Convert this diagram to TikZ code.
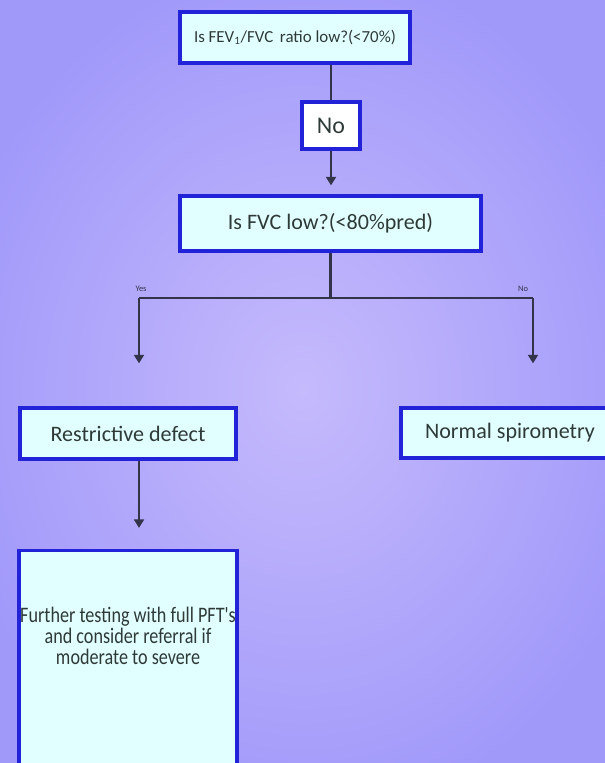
\documentclass[tikz,border=0pt]{standalone}
\usepackage{fontspec}
\setmainfont{Carlito}
\newfontfamily\condfont{Carlito}[FakeStretch=0.82]
\usetikzlibrary{arrows.meta}

\definecolor{bgin}{HTML}{C5BAFC}
\definecolor{bgout}{HTML}{A199FA}
\definecolor{boxblue}{HTML}{2222D8}
\definecolor{boxfill}{HTML}{E2FFFF}
\definecolor{txtgray}{HTML}{2E3A38}
\definecolor{linegray}{HTML}{33334A}

\begin{document}
\begin{tikzpicture}[x=0.025cm, y=-0.025cm,
	font=\fontsize{15.7}{17}\selectfont,
	box/.style={draw=boxblue, line width=2.3pt, fill=boxfill, text=txtgray, inner sep=0pt},
	line/.style={draw=linegray, line width=1.9pt},
	arr/.style={line, -{Triangle[width=7pt,length=6pt]}},
	small/.style={font=\fontsize{6}{7}\selectfont, text=linegray, inner sep=0pt}]
	\useasboundingbox (0,0) rectangle (605,763);
	\clip (0,0) rectangle (605,763);
	\shade[inner color=bgin, outer color=bgout] (-60,-40) rectangle (665,820);

	\node[box, font=\fontsize{12}{14}\selectfont, minimum width=5.75cm, minimum height=1.275cm] (ratio) at (295,37.5) {Is FEV\textsubscript{1}/FVC\, ratio low?(<70\%)};
	\node[box, fill=white, font=\fontsize{17}{19}\selectfont, minimum width=1.45cm, minimum height=1.175cm] (no) at (331,125.5) {No};
	\node[box, minimum width=7.525cm, minimum height=1.375cm] (fvc) at (330.5,223.5) {Is FVC low?(<80\%pred)};
	\node[box, minimum width=5.4cm, minimum height=1.275cm] (restrict) at (128,433.5) {Restrictive defect};
	\node[box, minimum width=5.45cm, minimum height=1.25cm] (normal) at (510,433) {Normal spirometry};
	\node[box, font=\condfont\fontsize{15.75}{15}\selectfont, align=center, anchor=north,
		minimum width=5.45cm, inner xsep=0pt, inner ysep=40pt, text depth=120pt] (further) at (128,549)
		{Further testing with full PFT's\\and consider referral if\\moderate to severe};

	\coordinate (yes) at (139,298);
	\coordinate (nobranch) at (533,298);
	\node[small] (yeslabel) at (141,289) {Yes};
	\node[small] (nolabel) at (523,289) {No};

	\draw[line] (no.north |- ratio.south) -- (no.north);
	\draw[arr, shorten >=6.4pt] (no.south) -- (no.south |- fvc.north);
	\draw[line] (fvc.south) -- (fvc.south |- yes);
	\draw[line] (yes) -- (nobranch);
	\draw[arr, shorten >=30.6pt] (yes) -- (yes |- restrict.north);
	\draw[arr, shorten >=30.6pt] (nobranch) -- (nobranch |- normal.north);
	\draw[arr, shorten >=15pt] (yes |- restrict.south) -- (yes |- further.north);
\end{tikzpicture}
\end{document}
